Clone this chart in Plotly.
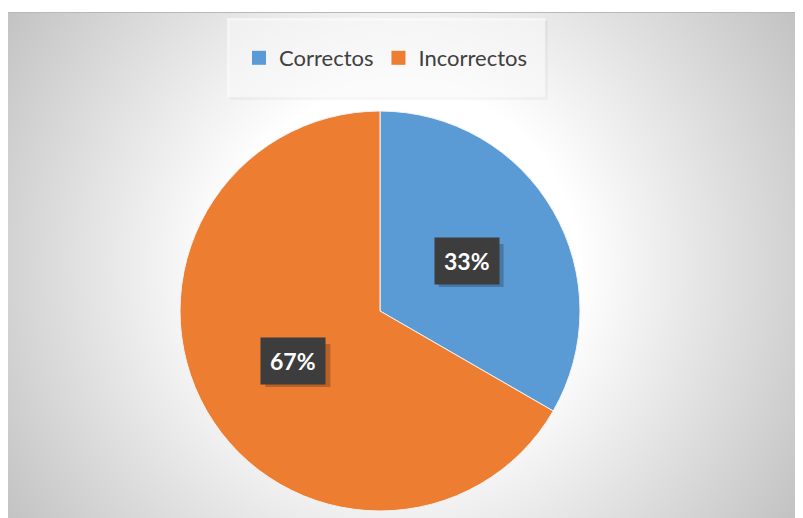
import math
import base64
import plotly.graph_objects as go

labels = ["Correctos", "Incorrectos"]
values = [1, 2]
colors = ["#5B9BD5", "#ED7D31"]

W, H = 803, 518

# radial grey background like the Excel chart area (figure px: x 0-795, y 4-510)
svg = (
    '<svg xmlns="http://www.w3.org/2000/svg" width="795" height="506" preserveAspectRatio="none">'
    '<defs><radialGradient id="g" gradientUnits="userSpaceOnUse" cx="392" cy="253" r="466">'
    '<stop offset="0" stop-color="#ffffff"/>'
    '<stop offset="0.38" stop-color="#ffffff"/>'
    '<stop offset="1" stop-color="#c3c3c3"/>'
    '</radialGradient></defs>'
    '<rect width="795" height="506" fill="url(#g)"/>'
    '<rect x="0" y="0" width="795" height="1" fill="#b8b8b8"/></svg>'
)
bg_uri = "data:image/svg+xml;base64," + base64.b64encode(svg.encode()).decode()

# pie placement (figure pixels)
cx_px, cy_px, r_px = 372, 303, 200
dom_x = [(cx_px - r_px) / W, (cx_px + r_px) / W]
dom_y = [1 - (cy_px + r_px) / H, 1 - (cy_px - r_px) / H]

fig = go.Figure(go.Pie(
    labels=labels,
    values=values,
    marker=dict(colors=colors, line=dict(color="#f2f2f2", width=1)),
    sort=False,
    direction="clockwise",
    rotation=0,
    textinfo="none",
    hoverinfo="label+percent",
    showlegend=False,
    domain=dict(x=dom_x, y=dom_y),
))

# legend entries with bigger square keys
for lab, col in zip(labels, colors):
    fig.add_trace(go.Scatter(
        x=[None], y=[None], mode="markers", name=lab,
        marker=dict(symbol="square", size=14, color=col),
    ))

shapes = [
    # legend panel
    dict(type="rect", xref="paper", yref="paper",
         x0=222 / W, x1=540 / W, y0=1 - 92 / H, y1=1 - 13 / H,
         fillcolor="rgba(0,0,0,0.03)", line=dict(width=0), layer="below"),
    dict(type="rect", xref="paper", yref="paper",
         x0=219 / W, x1=537 / W, y0=1 - 89 / H, y1=1 - 10 / H,
         fillcolor="rgba(255,255,255,0.55)", line=dict(width=0), layer="below"),
]

# data labels: dark boxes at half radius, mid-angle of each slice
total = sum(values)
cum = 0
annotations = []
for v in values:
    mid = (cum + v / 2) / total * 2 * math.pi
    cum += v
    px = cx_px + 0.5 * r_px * math.sin(mid)
    py = cy_px - 0.5 * r_px * math.cos(mid)
    # soft shadow behind the label box
    shapes.append(dict(
        type="rect", xref="paper", yref="paper",
        x0=(px - 28) / W, x1=(px + 37) / W,
        y0=1 - (py + 26) / H, y1=1 - (py - 17) / H,
        fillcolor="rgba(0,0,0,0.22)", line=dict(width=0), layer="above",
    ))
    annotations.append(dict(
        x=px / W, y=1 - py / H, xref="paper", yref="paper",
        xanchor="center", yanchor="middle",
        text="<b>%d%%</b>" % round(100 * v / total), showarrow=False,
        font=dict(family="Lato, Open Sans, sans-serif", size=23, color="white"),
        bgcolor="#3d3d3d", borderpad=9,
    ))

fig.update_layout(
    width=W, height=H,
    margin=dict(l=0, r=0, t=0, b=0),
    paper_bgcolor="white",
    plot_bgcolor="rgba(0,0,0,0)",
    xaxis=dict(visible=False),
    yaxis=dict(visible=False),
    images=[dict(
        source=bg_uri, xref="paper", yref="paper",
        x=0, y=1 - 4 / H, sizex=795 / W, sizey=506 / H,
        xanchor="left", yanchor="top", sizing="stretch", layer="below",
    )],
    shapes=shapes,
    legend=dict(
        orientation="h", x=378 / W, xanchor="center", y=1 - 50 / H, yanchor="middle",
        bgcolor="rgba(0,0,0,0)",
        font=dict(family="Lato, Open Sans, sans-serif", size=22, color="#404040"),
        itemwidth=30,
    ),
    showlegend=True,
    annotations=annotations,
)

fig.write_html("out.html")
